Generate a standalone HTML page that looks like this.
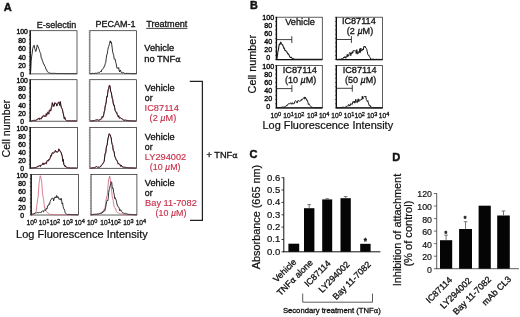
<!DOCTYPE html>
<html><head><meta charset="utf-8"><title>Figure</title>
<style>
html,body{margin:0;padding:0;background:#fff;}
svg{display:block;filter:blur(0.25px);}
svg text{font-family:"Liberation Sans", Arial, Helvetica, sans-serif;stroke-width:0.3px;paint-order:stroke fill;}
</style></head>
<body>
<svg width="520" height="317" viewBox="0 0 520 317">
<rect x="0" y="0" width="520" height="317" fill="#fff"/>
<g fill="#111"><g stroke="#111">
<text x="3.7" y="10.6" font-size="11.8" textLength="8.0" lengthAdjust="spacingAndGlyphs" style="stroke-width:0.45px" font-weight="bold">A</text>
<text x="36.8" y="27.5" font-size="9.0" textLength="39.4" lengthAdjust="spacingAndGlyphs">E-selectin</text>
<text x="95.5" y="27.2" font-size="9.0" textLength="40.0" lengthAdjust="spacingAndGlyphs">PECAM-1</text>
<text x="146.2" y="27.2" font-size="9.0" textLength="41.2" lengthAdjust="spacingAndGlyphs">Treatment</text>
<line x1="146.2" y1="28.4" x2="187.4" y2="28.4" stroke="#111" stroke-width="0.8"/>
<rect x="30.30" y="30.70" width="46.70" height="43.20" fill="none" stroke="#2a2a2a" stroke-width="0.75"/>
<rect x="89.90" y="30.70" width="46.70" height="43.20" fill="none" stroke="#2a2a2a" stroke-width="0.75"/>
<line x1="30.2" y1="30.4" x2="30.2" y2="74.2" stroke="#111" stroke-width="1.4"/>
<line x1="28.9" y1="30.7" x2="30.2" y2="30.7" stroke="#111" stroke-width="0.5"/>
<line x1="28.9" y1="35.02" x2="30.2" y2="35.02" stroke="#111" stroke-width="0.5"/>
<line x1="28.9" y1="39.34" x2="30.2" y2="39.34" stroke="#111" stroke-width="0.5"/>
<line x1="28.9" y1="43.66" x2="30.2" y2="43.66" stroke="#111" stroke-width="0.5"/>
<line x1="28.9" y1="47.98" x2="30.2" y2="47.98" stroke="#111" stroke-width="0.5"/>
<line x1="28.9" y1="52.3" x2="30.2" y2="52.3" stroke="#111" stroke-width="0.5"/>
<line x1="28.9" y1="56.62" x2="30.2" y2="56.62" stroke="#111" stroke-width="0.5"/>
<line x1="28.9" y1="60.94" x2="30.2" y2="60.94" stroke="#111" stroke-width="0.5"/>
<line x1="28.9" y1="65.26" x2="30.2" y2="65.26" stroke="#111" stroke-width="0.5"/>
<line x1="28.9" y1="69.58" x2="30.2" y2="69.58" stroke="#111" stroke-width="0.5"/>
<line x1="28.9" y1="73.9" x2="30.2" y2="73.9" stroke="#111" stroke-width="0.5"/>
<text x="22.1" y="33.9" font-size="6.8" text-anchor="middle" style="stroke-width:0.4px">100</text>
<text x="22.1" y="42.5" font-size="6.8" text-anchor="middle" style="stroke-width:0.4px">80</text>
<text x="22.1" y="51.0" font-size="6.8" text-anchor="middle" style="stroke-width:0.4px">60</text>
<text x="22.1" y="59.6" font-size="6.8" text-anchor="middle" style="stroke-width:0.4px">40</text>
<text x="22.1" y="68.1" font-size="6.8" text-anchor="middle" style="stroke-width:0.4px">20</text>
<text x="22.1" y="76.7" font-size="6.8" text-anchor="middle" style="stroke-width:0.4px">0</text>
<line x1="88.7" y1="30.7" x2="89.9" y2="30.7" stroke="#444" stroke-width="0.45"/>
<line x1="88.7" y1="32.43" x2="89.9" y2="32.43" stroke="#444" stroke-width="0.45"/>
<line x1="88.7" y1="34.16" x2="89.9" y2="34.16" stroke="#444" stroke-width="0.45"/>
<line x1="88.7" y1="35.88" x2="89.9" y2="35.88" stroke="#444" stroke-width="0.45"/>
<line x1="88.7" y1="37.61" x2="89.9" y2="37.61" stroke="#444" stroke-width="0.45"/>
<line x1="88.7" y1="39.34" x2="89.9" y2="39.34" stroke="#444" stroke-width="0.45"/>
<line x1="88.7" y1="41.07" x2="89.9" y2="41.07" stroke="#444" stroke-width="0.45"/>
<line x1="88.7" y1="42.8" x2="89.9" y2="42.8" stroke="#444" stroke-width="0.45"/>
<line x1="88.7" y1="44.52" x2="89.9" y2="44.52" stroke="#444" stroke-width="0.45"/>
<line x1="88.7" y1="46.25" x2="89.9" y2="46.25" stroke="#444" stroke-width="0.45"/>
<line x1="88.7" y1="47.98" x2="89.9" y2="47.98" stroke="#444" stroke-width="0.45"/>
<line x1="88.7" y1="49.71" x2="89.9" y2="49.71" stroke="#444" stroke-width="0.45"/>
<line x1="88.7" y1="51.44" x2="89.9" y2="51.44" stroke="#444" stroke-width="0.45"/>
<line x1="88.7" y1="53.16" x2="89.9" y2="53.16" stroke="#444" stroke-width="0.45"/>
<line x1="88.7" y1="54.89" x2="89.9" y2="54.89" stroke="#444" stroke-width="0.45"/>
<line x1="88.7" y1="56.62" x2="89.9" y2="56.62" stroke="#444" stroke-width="0.45"/>
<line x1="88.7" y1="58.35" x2="89.9" y2="58.35" stroke="#444" stroke-width="0.45"/>
<line x1="88.7" y1="60.08" x2="89.9" y2="60.08" stroke="#444" stroke-width="0.45"/>
<line x1="88.7" y1="61.8" x2="89.9" y2="61.8" stroke="#444" stroke-width="0.45"/>
<line x1="88.7" y1="63.53" x2="89.9" y2="63.53" stroke="#444" stroke-width="0.45"/>
<line x1="88.7" y1="65.26" x2="89.9" y2="65.26" stroke="#444" stroke-width="0.45"/>
<line x1="88.7" y1="66.99" x2="89.9" y2="66.99" stroke="#444" stroke-width="0.45"/>
<line x1="88.7" y1="68.72" x2="89.9" y2="68.72" stroke="#444" stroke-width="0.45"/>
<line x1="88.7" y1="70.44" x2="89.9" y2="70.44" stroke="#444" stroke-width="0.45"/>
<line x1="88.7" y1="72.17" x2="89.9" y2="72.17" stroke="#444" stroke-width="0.45"/>
<line x1="88.7" y1="73.9" x2="89.9" y2="73.9" stroke="#444" stroke-width="0.45"/>
<rect x="30.30" y="79.70" width="46.70" height="41.50" fill="none" stroke="#2a2a2a" stroke-width="0.75"/>
<rect x="89.90" y="79.70" width="46.70" height="41.50" fill="none" stroke="#2a2a2a" stroke-width="0.75"/>
<line x1="30.2" y1="79.4" x2="30.2" y2="121.5" stroke="#111" stroke-width="1.4"/>
<line x1="28.9" y1="79.7" x2="30.2" y2="79.7" stroke="#111" stroke-width="0.5"/>
<line x1="28.9" y1="83.85" x2="30.2" y2="83.85" stroke="#111" stroke-width="0.5"/>
<line x1="28.9" y1="88.0" x2="30.2" y2="88.0" stroke="#111" stroke-width="0.5"/>
<line x1="28.9" y1="92.15" x2="30.2" y2="92.15" stroke="#111" stroke-width="0.5"/>
<line x1="28.9" y1="96.3" x2="30.2" y2="96.3" stroke="#111" stroke-width="0.5"/>
<line x1="28.9" y1="100.45" x2="30.2" y2="100.45" stroke="#111" stroke-width="0.5"/>
<line x1="28.9" y1="104.6" x2="30.2" y2="104.6" stroke="#111" stroke-width="0.5"/>
<line x1="28.9" y1="108.75" x2="30.2" y2="108.75" stroke="#111" stroke-width="0.5"/>
<line x1="28.9" y1="112.9" x2="30.2" y2="112.9" stroke="#111" stroke-width="0.5"/>
<line x1="28.9" y1="117.05" x2="30.2" y2="117.05" stroke="#111" stroke-width="0.5"/>
<line x1="28.9" y1="121.2" x2="30.2" y2="121.2" stroke="#111" stroke-width="0.5"/>
<text x="22.1" y="82.9" font-size="6.8" text-anchor="middle" style="stroke-width:0.4px">100</text>
<text x="22.1" y="91.1" font-size="6.8" text-anchor="middle" style="stroke-width:0.4px">80</text>
<text x="22.1" y="99.3" font-size="6.8" text-anchor="middle" style="stroke-width:0.4px">60</text>
<text x="22.1" y="107.6" font-size="6.8" text-anchor="middle" style="stroke-width:0.4px">40</text>
<text x="22.1" y="115.8" font-size="6.8" text-anchor="middle" style="stroke-width:0.4px">20</text>
<text x="22.1" y="124.0" font-size="6.8" text-anchor="middle" style="stroke-width:0.4px">0</text>
<line x1="88.7" y1="79.7" x2="89.9" y2="79.7" stroke="#444" stroke-width="0.45"/>
<line x1="88.7" y1="81.36" x2="89.9" y2="81.36" stroke="#444" stroke-width="0.45"/>
<line x1="88.7" y1="83.02" x2="89.9" y2="83.02" stroke="#444" stroke-width="0.45"/>
<line x1="88.7" y1="84.68" x2="89.9" y2="84.68" stroke="#444" stroke-width="0.45"/>
<line x1="88.7" y1="86.34" x2="89.9" y2="86.34" stroke="#444" stroke-width="0.45"/>
<line x1="88.7" y1="88.0" x2="89.9" y2="88.0" stroke="#444" stroke-width="0.45"/>
<line x1="88.7" y1="89.66" x2="89.9" y2="89.66" stroke="#444" stroke-width="0.45"/>
<line x1="88.7" y1="91.32" x2="89.9" y2="91.32" stroke="#444" stroke-width="0.45"/>
<line x1="88.7" y1="92.98" x2="89.9" y2="92.98" stroke="#444" stroke-width="0.45"/>
<line x1="88.7" y1="94.64" x2="89.9" y2="94.64" stroke="#444" stroke-width="0.45"/>
<line x1="88.7" y1="96.3" x2="89.9" y2="96.3" stroke="#444" stroke-width="0.45"/>
<line x1="88.7" y1="97.96" x2="89.9" y2="97.96" stroke="#444" stroke-width="0.45"/>
<line x1="88.7" y1="99.62" x2="89.9" y2="99.62" stroke="#444" stroke-width="0.45"/>
<line x1="88.7" y1="101.28" x2="89.9" y2="101.28" stroke="#444" stroke-width="0.45"/>
<line x1="88.7" y1="102.94" x2="89.9" y2="102.94" stroke="#444" stroke-width="0.45"/>
<line x1="88.7" y1="104.6" x2="89.9" y2="104.6" stroke="#444" stroke-width="0.45"/>
<line x1="88.7" y1="106.26" x2="89.9" y2="106.26" stroke="#444" stroke-width="0.45"/>
<line x1="88.7" y1="107.92" x2="89.9" y2="107.92" stroke="#444" stroke-width="0.45"/>
<line x1="88.7" y1="109.58" x2="89.9" y2="109.58" stroke="#444" stroke-width="0.45"/>
<line x1="88.7" y1="111.24" x2="89.9" y2="111.24" stroke="#444" stroke-width="0.45"/>
<line x1="88.7" y1="112.9" x2="89.9" y2="112.9" stroke="#444" stroke-width="0.45"/>
<line x1="88.7" y1="114.56" x2="89.9" y2="114.56" stroke="#444" stroke-width="0.45"/>
<line x1="88.7" y1="116.22" x2="89.9" y2="116.22" stroke="#444" stroke-width="0.45"/>
<line x1="88.7" y1="117.88" x2="89.9" y2="117.88" stroke="#444" stroke-width="0.45"/>
<line x1="88.7" y1="119.54" x2="89.9" y2="119.54" stroke="#444" stroke-width="0.45"/>
<line x1="88.7" y1="121.2" x2="89.9" y2="121.2" stroke="#444" stroke-width="0.45"/>
<rect x="30.30" y="127.40" width="47.10" height="40.90" fill="none" stroke="#2a2a2a" stroke-width="0.75"/>
<rect x="90.00" y="127.40" width="46.60" height="40.90" fill="none" stroke="#2a2a2a" stroke-width="0.75"/>
<line x1="30.2" y1="127.10000000000001" x2="30.2" y2="168.60000000000002" stroke="#111" stroke-width="1.4"/>
<line x1="28.9" y1="127.4" x2="30.2" y2="127.4" stroke="#111" stroke-width="0.5"/>
<line x1="28.9" y1="131.49" x2="30.2" y2="131.49" stroke="#111" stroke-width="0.5"/>
<line x1="28.9" y1="135.58" x2="30.2" y2="135.58" stroke="#111" stroke-width="0.5"/>
<line x1="28.9" y1="139.67" x2="30.2" y2="139.67" stroke="#111" stroke-width="0.5"/>
<line x1="28.9" y1="143.76" x2="30.2" y2="143.76" stroke="#111" stroke-width="0.5"/>
<line x1="28.9" y1="147.85" x2="30.2" y2="147.85" stroke="#111" stroke-width="0.5"/>
<line x1="28.9" y1="151.94" x2="30.2" y2="151.94" stroke="#111" stroke-width="0.5"/>
<line x1="28.9" y1="156.03" x2="30.2" y2="156.03" stroke="#111" stroke-width="0.5"/>
<line x1="28.9" y1="160.12" x2="30.2" y2="160.12" stroke="#111" stroke-width="0.5"/>
<line x1="28.9" y1="164.21" x2="30.2" y2="164.21" stroke="#111" stroke-width="0.5"/>
<line x1="28.9" y1="168.3" x2="30.2" y2="168.3" stroke="#111" stroke-width="0.5"/>
<text x="22.1" y="130.6" font-size="6.8" text-anchor="middle" style="stroke-width:0.4px">100</text>
<text x="22.1" y="138.7" font-size="6.8" text-anchor="middle" style="stroke-width:0.4px">80</text>
<text x="22.1" y="146.8" font-size="6.8" text-anchor="middle" style="stroke-width:0.4px">60</text>
<text x="22.1" y="154.9" font-size="6.8" text-anchor="middle" style="stroke-width:0.4px">40</text>
<text x="22.1" y="163.0" font-size="6.8" text-anchor="middle" style="stroke-width:0.4px">20</text>
<text x="22.1" y="171.1" font-size="6.8" text-anchor="middle" style="stroke-width:0.4px">0</text>
<line x1="88.8" y1="127.4" x2="90.0" y2="127.4" stroke="#444" stroke-width="0.45"/>
<line x1="88.8" y1="129.04" x2="90.0" y2="129.04" stroke="#444" stroke-width="0.45"/>
<line x1="88.8" y1="130.67" x2="90.0" y2="130.67" stroke="#444" stroke-width="0.45"/>
<line x1="88.8" y1="132.31" x2="90.0" y2="132.31" stroke="#444" stroke-width="0.45"/>
<line x1="88.8" y1="133.94" x2="90.0" y2="133.94" stroke="#444" stroke-width="0.45"/>
<line x1="88.8" y1="135.58" x2="90.0" y2="135.58" stroke="#444" stroke-width="0.45"/>
<line x1="88.8" y1="137.22" x2="90.0" y2="137.22" stroke="#444" stroke-width="0.45"/>
<line x1="88.8" y1="138.85" x2="90.0" y2="138.85" stroke="#444" stroke-width="0.45"/>
<line x1="88.8" y1="140.49" x2="90.0" y2="140.49" stroke="#444" stroke-width="0.45"/>
<line x1="88.8" y1="142.12" x2="90.0" y2="142.12" stroke="#444" stroke-width="0.45"/>
<line x1="88.8" y1="143.76" x2="90.0" y2="143.76" stroke="#444" stroke-width="0.45"/>
<line x1="88.8" y1="145.4" x2="90.0" y2="145.4" stroke="#444" stroke-width="0.45"/>
<line x1="88.8" y1="147.03" x2="90.0" y2="147.03" stroke="#444" stroke-width="0.45"/>
<line x1="88.8" y1="148.67" x2="90.0" y2="148.67" stroke="#444" stroke-width="0.45"/>
<line x1="88.8" y1="150.3" x2="90.0" y2="150.3" stroke="#444" stroke-width="0.45"/>
<line x1="88.8" y1="151.94" x2="90.0" y2="151.94" stroke="#444" stroke-width="0.45"/>
<line x1="88.8" y1="153.58" x2="90.0" y2="153.58" stroke="#444" stroke-width="0.45"/>
<line x1="88.8" y1="155.21" x2="90.0" y2="155.21" stroke="#444" stroke-width="0.45"/>
<line x1="88.8" y1="156.85" x2="90.0" y2="156.85" stroke="#444" stroke-width="0.45"/>
<line x1="88.8" y1="158.48" x2="90.0" y2="158.48" stroke="#444" stroke-width="0.45"/>
<line x1="88.8" y1="160.12" x2="90.0" y2="160.12" stroke="#444" stroke-width="0.45"/>
<line x1="88.8" y1="161.76" x2="90.0" y2="161.76" stroke="#444" stroke-width="0.45"/>
<line x1="88.8" y1="163.39" x2="90.0" y2="163.39" stroke="#444" stroke-width="0.45"/>
<line x1="88.8" y1="165.03" x2="90.0" y2="165.03" stroke="#444" stroke-width="0.45"/>
<line x1="88.8" y1="166.66" x2="90.0" y2="166.66" stroke="#444" stroke-width="0.45"/>
<line x1="88.8" y1="168.3" x2="90.0" y2="168.3" stroke="#444" stroke-width="0.45"/>
<rect x="31.20" y="174.50" width="47.20" height="40.50" fill="none" stroke="#2a2a2a" stroke-width="0.75"/>
<rect x="91.10" y="174.50" width="45.80" height="40.50" fill="none" stroke="#2a2a2a" stroke-width="0.75"/>
<line x1="31.099999999999998" y1="174.2" x2="31.099999999999998" y2="215.3" stroke="#111" stroke-width="1.4"/>
<line x1="29.799999999999997" y1="174.5" x2="31.099999999999998" y2="174.5" stroke="#111" stroke-width="0.5"/>
<line x1="29.799999999999997" y1="178.55" x2="31.099999999999998" y2="178.55" stroke="#111" stroke-width="0.5"/>
<line x1="29.799999999999997" y1="182.6" x2="31.099999999999998" y2="182.6" stroke="#111" stroke-width="0.5"/>
<line x1="29.799999999999997" y1="186.65" x2="31.099999999999998" y2="186.65" stroke="#111" stroke-width="0.5"/>
<line x1="29.799999999999997" y1="190.7" x2="31.099999999999998" y2="190.7" stroke="#111" stroke-width="0.5"/>
<line x1="29.799999999999997" y1="194.75" x2="31.099999999999998" y2="194.75" stroke="#111" stroke-width="0.5"/>
<line x1="29.799999999999997" y1="198.8" x2="31.099999999999998" y2="198.8" stroke="#111" stroke-width="0.5"/>
<line x1="29.799999999999997" y1="202.85" x2="31.099999999999998" y2="202.85" stroke="#111" stroke-width="0.5"/>
<line x1="29.799999999999997" y1="206.9" x2="31.099999999999998" y2="206.9" stroke="#111" stroke-width="0.5"/>
<line x1="29.799999999999997" y1="210.95" x2="31.099999999999998" y2="210.95" stroke="#111" stroke-width="0.5"/>
<line x1="29.799999999999997" y1="215.0" x2="31.099999999999998" y2="215.0" stroke="#111" stroke-width="0.5"/>
<text x="22.1" y="177.7" font-size="6.8" text-anchor="middle" style="stroke-width:0.4px">100</text>
<text x="22.1" y="185.7" font-size="6.8" text-anchor="middle" style="stroke-width:0.4px">80</text>
<text x="22.1" y="193.7" font-size="6.8" text-anchor="middle" style="stroke-width:0.4px">60</text>
<text x="22.1" y="201.8" font-size="6.8" text-anchor="middle" style="stroke-width:0.4px">40</text>
<text x="22.1" y="209.8" font-size="6.8" text-anchor="middle" style="stroke-width:0.4px">20</text>
<text x="22.1" y="217.8" font-size="6.8" text-anchor="middle" style="stroke-width:0.4px">0</text>
<line x1="89.89999999999999" y1="174.5" x2="91.1" y2="174.5" stroke="#444" stroke-width="0.45"/>
<line x1="89.89999999999999" y1="176.12" x2="91.1" y2="176.12" stroke="#444" stroke-width="0.45"/>
<line x1="89.89999999999999" y1="177.74" x2="91.1" y2="177.74" stroke="#444" stroke-width="0.45"/>
<line x1="89.89999999999999" y1="179.36" x2="91.1" y2="179.36" stroke="#444" stroke-width="0.45"/>
<line x1="89.89999999999999" y1="180.98" x2="91.1" y2="180.98" stroke="#444" stroke-width="0.45"/>
<line x1="89.89999999999999" y1="182.6" x2="91.1" y2="182.6" stroke="#444" stroke-width="0.45"/>
<line x1="89.89999999999999" y1="184.22" x2="91.1" y2="184.22" stroke="#444" stroke-width="0.45"/>
<line x1="89.89999999999999" y1="185.84" x2="91.1" y2="185.84" stroke="#444" stroke-width="0.45"/>
<line x1="89.89999999999999" y1="187.46" x2="91.1" y2="187.46" stroke="#444" stroke-width="0.45"/>
<line x1="89.89999999999999" y1="189.08" x2="91.1" y2="189.08" stroke="#444" stroke-width="0.45"/>
<line x1="89.89999999999999" y1="190.7" x2="91.1" y2="190.7" stroke="#444" stroke-width="0.45"/>
<line x1="89.89999999999999" y1="192.32" x2="91.1" y2="192.32" stroke="#444" stroke-width="0.45"/>
<line x1="89.89999999999999" y1="193.94" x2="91.1" y2="193.94" stroke="#444" stroke-width="0.45"/>
<line x1="89.89999999999999" y1="195.56" x2="91.1" y2="195.56" stroke="#444" stroke-width="0.45"/>
<line x1="89.89999999999999" y1="197.18" x2="91.1" y2="197.18" stroke="#444" stroke-width="0.45"/>
<line x1="89.89999999999999" y1="198.8" x2="91.1" y2="198.8" stroke="#444" stroke-width="0.45"/>
<line x1="89.89999999999999" y1="200.42" x2="91.1" y2="200.42" stroke="#444" stroke-width="0.45"/>
<line x1="89.89999999999999" y1="202.04" x2="91.1" y2="202.04" stroke="#444" stroke-width="0.45"/>
<line x1="89.89999999999999" y1="203.66" x2="91.1" y2="203.66" stroke="#444" stroke-width="0.45"/>
<line x1="89.89999999999999" y1="205.28" x2="91.1" y2="205.28" stroke="#444" stroke-width="0.45"/>
<line x1="89.89999999999999" y1="206.9" x2="91.1" y2="206.9" stroke="#444" stroke-width="0.45"/>
<line x1="89.89999999999999" y1="208.52" x2="91.1" y2="208.52" stroke="#444" stroke-width="0.45"/>
<line x1="89.89999999999999" y1="210.14" x2="91.1" y2="210.14" stroke="#444" stroke-width="0.45"/>
<line x1="89.89999999999999" y1="211.76" x2="91.1" y2="211.76" stroke="#444" stroke-width="0.45"/>
<line x1="89.89999999999999" y1="213.38" x2="91.1" y2="213.38" stroke="#444" stroke-width="0.45"/>
<line x1="89.89999999999999" y1="215.0" x2="91.1" y2="215.0" stroke="#444" stroke-width="0.45"/>
<text x="10.1" y="157.6" font-size="10.9" textLength="57.8" lengthAdjust="spacingAndGlyphs" style="stroke-width:0.22px" transform="rotate(-90 10.1 157.6)">Cell number</text>
<text x="16.0" y="237.8" font-size="10.9" textLength="131.7" lengthAdjust="spacingAndGlyphs" style="stroke-width:0.22px">Log Fluorescence Intensity</text>
<text x="26.5" y="224.7" font-size="6.6">10<tspan dy="-2.1" font-size="5.6">0</tspan></text>
<text x="38.8" y="224.7" font-size="6.6">10<tspan dy="-2.1" font-size="5.6">1</tspan></text>
<text x="49.7" y="224.7" font-size="6.6">10<tspan dy="-2.1" font-size="5.6">2</tspan></text>
<text x="62.5" y="224.7" font-size="6.6">10<tspan dy="-2.1" font-size="5.6">3</tspan></text>
<text x="74.4" y="224.7" font-size="6.6">10<tspan dy="-2.1" font-size="5.6">4</tspan></text>
<text x="86.9" y="224.7" font-size="6.6">10<tspan dy="-2.1" font-size="5.6">0</tspan></text>
<text x="100.3" y="224.7" font-size="6.6">10<tspan dy="-2.1" font-size="5.6">1</tspan></text>
<text x="110.5" y="224.7" font-size="6.6">10<tspan dy="-2.1" font-size="5.6">2</tspan></text>
<text x="123.2" y="224.7" font-size="6.6">10<tspan dy="-2.1" font-size="5.6">3</tspan></text>
<text x="135.7" y="224.7" font-size="6.6">10<tspan dy="-2.1" font-size="5.6">4</tspan></text>
<polyline points="30.7,71.5 31.2,61.2 31.7,56.1 32.2,53.2 32.7,48.7 33.2,47.0 33.7,45.6 34.2,45.2 34.7,48.3 35.2,49.7 35.7,51.5 36.2,50.5 36.7,47.7 37.2,44.9 37.7,45.8 38.2,47.0 38.7,48.4 39.2,49.8 39.7,51.3 40.2,52.8 40.7,53.6 41.2,57.9 41.7,58.1 42.2,60.1 42.7,61.2 43.2,62.9 43.7,64.3 44.2,64.4 44.7,66.2 45.2,66.6 45.7,68.1 46.2,69.7 46.7,69.7 47.2,71.3 47.7,72.1 48.2,72.4 48.7,72.3 49.2,72.9 49.7,73.3 50.2,73.3 50.7,73.3 51.2,73.4 51.7,73.2 52.2,73.3 52.7,73.4 53.2,73.3 53.7,73.4 54.2,73.3 54.7,73.4 55.2,73.5 55.7,73.4 56.2,73.5 56.7,73.5 57.2,73.5 57.7,73.6 58.2,73.5 58.7,73.6 59.2,73.5 59.7,73.5 60.2,73.5 60.7,73.5 61.2,73.6 61.7,73.5 62.2,73.5 62.7,73.5 63.2,73.6 63.7,73.5 64.2,73.5 64.7,73.6 65.2,73.6 65.7,73.6 66.2,73.6 66.7,73.6 67.2,73.5 67.7,73.6 68.2,73.6 68.7,73.6 69.2,73.6 69.7,73.6 70.2,73.6 70.7,73.6 71.2,73.6 71.7,73.6 72.2,73.6 72.7,73.6 73.2,73.6 73.7,73.6 74.2,73.6 74.7,73.6 75.2,73.6 75.7,73.6 76.2,73.6 76.7,73.6" fill="none" stroke="#1c1c1c" stroke-width="0.9" stroke-linejoin="round"/>
<polyline points="90.2,73.6 90.7,73.6 91.2,73.6 91.7,73.6 92.2,73.4 92.7,73.3 93.2,73.5 93.7,73.5 94.2,73.4 94.7,73.4 95.2,73.3 95.7,73.2 96.2,73.3 96.7,73.3 97.2,72.9 97.7,72.9 98.2,72.6 98.7,72.2 99.2,72.4 99.7,72.4 100.2,71.9 100.7,71.3 101.2,72.0 101.7,69.8 102.2,69.8 102.7,69.3 103.2,68.3 103.7,68.0 104.2,66.3 104.7,66.2 105.2,63.6 105.7,62.9 106.2,58.8 106.7,55.0 107.2,54.1 107.7,50.6 108.2,48.1 108.7,46.5 109.2,44.9 109.7,43.1 110.2,40.8 110.7,42.9 111.2,41.8 111.7,44.1 112.2,48.1 112.7,51.9 113.2,53.8 113.7,55.2 114.2,59.2 114.7,59.0 115.2,59.1 115.7,62.2 116.2,63.8 116.7,67.1 117.2,68.3 117.7,67.7 118.2,68.6 118.7,67.6 119.2,70.9 119.7,71.9 120.2,69.9 120.7,71.2 121.2,72.3 121.7,72.2 122.2,73.1 122.7,72.7 123.2,72.4 123.7,72.7 124.2,73.1 124.7,73.4 125.2,73.4 125.7,73.5 126.2,73.3 126.7,73.4 127.2,73.3 127.7,73.5 128.2,73.6 128.7,73.4 129.2,73.4 129.7,73.5 130.2,73.5 130.7,73.5 131.2,73.5 131.7,73.6 132.2,73.6 132.7,73.6 133.2,73.6 133.7,73.6 134.2,73.6 134.7,73.6 135.2,73.6 135.7,73.5 136.2,73.6" fill="none" stroke="#1c1c1c" stroke-width="0.9" stroke-linejoin="round"/>
<polyline points="30.8,120.8 31.3,121.0 31.8,121.0 32.3,120.6 32.8,120.8 33.3,120.8 33.8,120.4 34.3,120.5 34.8,120.1 35.3,120.6 35.8,119.9 36.3,120.3 36.8,119.8 37.3,119.0 37.8,119.1 38.3,118.4 38.8,118.5 39.3,119.8 39.8,117.8 40.3,118.5 40.8,119.0 41.3,119.1 41.8,116.9 42.3,117.4 42.8,115.7 43.3,115.9 43.8,114.9 44.3,116.4 44.8,115.7 45.3,115.7 45.8,116.8 46.3,113.0 46.8,115.4 47.3,112.7 47.8,111.7 48.3,112.9 48.8,114.4 49.3,110.0 49.8,109.6 50.3,111.1 50.8,111.3 51.3,107.5 51.8,107.8 52.3,102.2 52.8,103.9 53.3,104.9 53.8,106.5 54.3,105.1 54.8,102.3 55.3,103.6 55.8,103.4 56.3,103.7 56.8,106.2 57.3,104.6 57.8,103.4 58.3,102.6 58.8,101.7 59.3,103.7 59.8,105.9 60.3,101.1 60.8,105.3 61.3,107.5 61.8,108.6 62.3,108.7 62.8,111.0 63.3,113.7 63.8,116.3 64.3,119.0 64.8,117.0 65.3,119.8 65.8,120.0 66.3,120.4 66.8,120.6 67.3,120.8 67.8,120.9 68.3,121.0 68.8,120.8 69.3,120.7 69.8,120.8 70.3,120.9 70.8,120.8 71.3,121.0 71.8,120.9 72.3,120.8 72.8,120.8 73.3,120.9 73.8,120.8 74.3,120.9 74.8,120.9 75.3,120.9 75.8,120.8 76.3,120.9 76.8,121.0" fill="none" stroke="#cf6078" stroke-width="1.0" stroke-linejoin="round"/>
<polyline points="30.8,120.9 31.3,121.0 31.8,121.0 32.3,120.7 32.8,120.8 33.3,120.7 33.8,120.4 34.3,120.5 34.8,120.2 35.3,120.5 35.8,120.0 36.3,120.2 36.8,119.8 37.3,119.2 37.8,119.2 38.3,118.6 38.8,118.7 39.3,119.4 39.8,118.2 40.3,118.6 40.8,118.8 41.3,118.8 41.8,117.3 42.3,117.5 42.8,116.3 43.3,116.3 43.8,115.6 44.3,116.5 44.8,116.0 45.3,115.9 45.8,116.4 46.3,113.8 46.8,115.1 47.3,113.2 47.8,112.4 48.3,113.1 48.8,113.8 49.3,110.6 49.8,109.9 50.3,110.6 50.8,110.6 51.3,107.6 51.8,107.0 52.3,102.9 52.8,103.9 53.3,105.0 53.8,106.4 54.3,105.4 54.8,103.0 55.3,103.3 55.8,103.2 56.3,103.9 56.8,105.9 57.3,104.8 57.8,103.5 58.3,102.5 58.8,102.0 59.3,103.7 59.8,105.3 60.3,101.9 60.8,105.0 61.3,107.3 61.8,108.4 62.3,109.5 62.8,111.7 63.3,113.8 63.8,116.1 64.3,118.5 64.8,117.4 65.3,119.5 65.8,120.0 66.3,120.3 66.8,120.5 67.3,120.8 67.8,120.9 68.3,120.9 68.8,120.8 69.3,120.7 69.8,120.8 70.3,120.9 70.8,120.8 71.3,120.9 71.8,120.9 72.3,120.8 72.8,120.8 73.3,120.9 73.8,120.9 74.3,120.9 74.8,120.9 75.3,120.9 75.8,120.9 76.3,120.9 76.8,121.0" fill="none" stroke="#1c1c1c" stroke-width="1.0" stroke-linejoin="round"/>
<polyline points="90.2,120.9 90.7,121.0 91.2,121.0 91.7,120.9 92.2,120.7 92.7,120.7 93.2,120.5 93.7,120.8 94.2,120.6 94.7,120.8 95.2,120.5 95.7,119.9 96.2,120.2 96.7,119.9 97.2,119.6 97.7,120.0 98.2,120.4 98.7,120.2 99.2,119.8 99.7,120.3 100.2,119.2 100.7,119.2 101.2,119.1 101.7,118.8 102.2,116.2 102.7,117.5 103.2,116.9 103.7,115.2 104.2,111.6 104.7,110.3 105.2,105.8 105.7,104.5 106.2,102.0 106.7,96.3 107.2,97.2 107.7,93.2 108.2,89.4 108.7,88.9 109.2,85.3 109.7,85.3 110.2,86.9 110.7,91.9 111.2,92.3 111.7,95.3 112.2,98.6 112.7,99.4 113.2,103.5 113.7,105.3 114.2,104.9 114.7,108.2 115.2,110.5 115.7,111.9 116.2,112.7 116.7,111.8 117.2,114.4 117.7,115.0 118.2,117.0 118.7,115.6 119.2,118.2 119.7,118.2 120.2,117.4 120.7,118.2 121.2,118.5 121.7,118.5 122.2,118.6 122.7,119.1 123.2,120.0 123.7,120.4 124.2,120.3 124.7,120.3 125.2,120.4 125.7,119.9 126.2,120.1 126.7,120.5 127.2,120.4 127.7,120.6 128.2,120.5 128.7,120.7 129.2,120.8 129.7,120.9 130.2,120.8 130.7,120.9 131.2,120.8 131.7,120.7 132.2,120.9 132.7,120.9 133.2,120.7 133.7,120.9 134.2,121.0 134.7,121.0 135.2,121.0 135.7,120.9 136.2,120.9" fill="none" stroke="#cf6078" stroke-width="1.0" stroke-linejoin="round"/>
<polyline points="90.2,120.9 90.7,121.0 91.2,120.9 91.7,120.9 92.2,120.7 92.7,120.7 93.2,120.6 93.7,120.7 94.2,120.6 94.7,120.7 95.2,120.4 95.7,119.9 96.2,120.0 96.7,119.8 97.2,119.6 97.7,120.0 98.2,120.4 98.7,120.2 99.2,119.9 99.7,120.1 100.2,119.3 100.7,119.3 101.2,119.0 101.7,118.6 102.2,116.6 102.7,117.3 103.2,116.4 103.7,114.7 104.2,112.0 104.7,110.5 105.2,106.1 105.7,104.7 106.2,102.1 106.7,96.9 107.2,97.0 107.7,93.3 108.2,89.8 108.7,89.1 109.2,85.7 109.7,85.4 110.2,87.2 110.7,91.3 111.2,92.0 111.7,95.0 112.2,98.1 112.7,99.1 113.2,103.0 113.7,105.1 114.2,105.0 114.7,108.0 115.2,110.4 115.7,111.6 116.2,112.4 116.7,112.4 117.2,114.5 117.7,115.1 118.2,116.6 118.7,115.8 119.2,117.9 119.7,118.1 120.2,117.7 120.7,118.3 121.2,118.6 121.7,118.6 122.2,118.8 122.7,119.2 123.2,119.9 123.7,120.3 124.2,120.2 124.7,120.3 125.2,120.3 125.7,120.0 126.2,120.1 126.7,120.5 127.2,120.4 127.7,120.6 128.2,120.5 128.7,120.7 129.2,120.8 129.7,120.8 130.2,120.8 130.7,120.8 131.2,120.8 131.7,120.7 132.2,120.8 132.7,120.9 133.2,120.8 133.7,120.9 134.2,121.0 134.7,121.0 135.2,121.0 135.7,120.9 136.2,120.9" fill="none" stroke="#1c1c1c" stroke-width="1.0" stroke-linejoin="round"/>
<polyline points="30.8,168.0 31.3,167.9 31.8,167.9 32.3,168.0 32.8,167.7 33.3,167.7 33.8,167.6 34.3,167.8 34.8,167.7 35.3,167.5 35.8,167.6 36.3,167.3 36.8,167.6 37.3,167.3 37.8,166.2 38.3,166.4 38.8,166.1 39.3,165.4 39.8,166.2 40.3,166.8 40.8,165.0 41.3,165.2 41.8,164.7 42.3,164.4 42.8,162.8 43.3,164.7 43.8,162.9 44.3,164.4 44.8,163.4 45.3,162.7 45.8,163.7 46.3,164.2 46.8,161.8 47.3,160.3 47.8,160.6 48.3,161.0 48.8,159.3 49.3,160.2 49.8,159.1 50.3,157.7 50.8,155.1 51.3,156.4 51.8,154.7 52.3,153.2 52.8,153.3 53.3,153.4 53.8,153.1 54.3,151.8 54.8,152.3 55.3,150.7 55.8,151.1 56.3,152.3 56.8,151.4 57.3,152.2 57.8,152.0 58.3,151.4 58.8,148.6 59.3,150.2 59.8,149.9 60.3,151.9 60.8,151.7 61.3,152.6 61.8,155.0 62.3,155.9 62.8,161.7 63.3,158.9 63.8,165.0 64.3,165.1 64.8,166.6 65.3,165.7 65.8,167.0 66.3,166.9 66.8,167.4 67.3,167.6 67.8,167.9 68.3,167.7 68.8,167.8 69.3,168.0 69.8,167.7 70.3,168.0 70.8,168.0 71.3,168.1 71.8,168.0 72.3,168.1 72.8,167.9 73.3,167.9 73.8,168.1 74.3,168.1 74.8,168.0 75.3,168.1 75.8,168.0 76.3,168.0 76.8,168.1" fill="none" stroke="#cf6078" stroke-width="1.0" stroke-linejoin="round"/>
<polyline points="30.8,168.0 31.3,168.0 31.8,167.9 32.3,168.0 32.8,167.8 33.3,167.7 33.8,167.6 34.3,167.7 34.8,167.6 35.3,167.5 35.8,167.5 36.3,167.2 36.8,167.4 37.3,167.1 37.8,166.3 38.3,166.4 38.8,166.1 39.3,165.6 39.8,166.1 40.3,166.5 40.8,165.2 41.3,165.3 41.8,164.8 42.3,164.5 42.8,163.4 43.3,164.5 43.8,163.3 44.3,164.2 44.8,163.5 45.3,163.0 45.8,163.4 46.3,163.5 46.8,161.8 47.3,160.6 47.8,160.7 48.3,160.9 48.8,159.5 49.3,159.7 49.8,158.6 50.3,157.4 50.8,155.6 51.3,155.9 51.8,154.1 52.3,152.6 52.8,152.6 53.3,153.0 53.8,153.2 54.3,152.3 54.8,152.0 55.3,150.4 55.8,150.8 56.3,152.0 56.8,151.8 57.3,152.3 57.8,151.7 58.3,150.8 58.8,149.0 59.3,150.6 59.8,150.5 60.3,151.5 60.8,151.8 61.3,153.2 61.8,155.1 62.3,156.7 62.8,161.2 63.3,159.6 63.8,164.3 64.3,165.0 64.8,166.1 65.3,165.9 65.8,167.0 66.3,167.1 66.8,167.5 67.3,167.7 67.8,167.9 68.3,167.8 68.8,167.8 69.3,167.9 69.8,167.8 70.3,168.0 70.8,168.0 71.3,168.0 71.8,168.0 72.3,168.0 72.8,167.9 73.3,167.9 73.8,168.1 74.3,168.1 74.8,168.0 75.3,168.1 75.8,168.0 76.3,168.0 76.8,168.1" fill="none" stroke="#1c1c1c" stroke-width="1.0" stroke-linejoin="round"/>
<polyline points="90.2,168.1 90.7,168.0 91.2,168.1 91.7,168.0 92.2,167.8 92.7,167.7 93.2,167.8 93.7,167.7 94.2,167.9 94.7,167.7 95.2,167.5 95.7,166.7 96.2,166.7 96.7,166.4 97.2,166.9 97.7,167.4 98.2,167.1 98.7,167.2 99.2,167.3 99.7,167.3 100.2,166.7 100.7,166.6 101.2,165.5 101.7,164.9 102.2,164.6 102.7,163.9 103.2,163.0 103.7,162.6 104.2,161.7 104.7,156.3 105.2,153.0 105.7,153.4 106.2,148.1 106.7,145.5 107.2,145.6 107.7,139.6 108.2,137.8 108.7,135.3 109.2,133.6 109.7,134.7 110.2,134.8 110.7,136.7 111.2,137.3 111.7,142.6 112.2,144.4 112.7,145.1 113.2,150.6 113.7,150.6 114.2,151.7 114.7,156.7 115.2,157.0 115.7,158.6 116.2,160.2 116.7,160.3 117.2,160.4 117.7,162.4 118.2,164.3 118.7,163.6 119.2,163.5 119.7,164.0 120.2,165.1 120.7,166.6 121.2,164.9 121.7,165.8 122.2,166.9 122.7,167.1 123.2,167.3 123.7,167.0 124.2,167.5 124.7,167.0 125.2,167.6 125.7,167.3 126.2,167.5 126.7,167.8 127.2,167.8 127.7,167.5 128.2,167.5 128.7,167.9 129.2,167.8 129.7,167.7 130.2,167.8 130.7,167.8 131.2,168.0 131.7,167.9 132.2,167.9 132.7,167.8 133.2,167.9 133.7,167.9 134.2,167.9 134.7,168.0 135.2,168.0 135.7,168.1 136.2,168.1" fill="none" stroke="#cf6078" stroke-width="1.0" stroke-linejoin="round"/>
<polyline points="90.2,168.1 90.7,168.0 91.2,168.1 91.7,168.0 92.2,167.9 92.7,167.8 93.2,167.8 93.7,167.7 94.2,167.8 94.7,167.7 95.2,167.5 95.7,166.8 96.2,166.7 96.7,166.5 97.2,166.9 97.7,167.3 98.2,167.2 98.7,167.2 99.2,167.3 99.7,167.2 100.2,166.7 100.7,166.6 101.2,165.7 101.7,165.0 102.2,164.6 102.7,163.9 103.2,162.8 103.7,162.0 104.2,161.2 104.7,156.9 105.2,153.4 105.7,153.1 106.2,148.6 106.7,145.5 107.2,145.1 107.7,140.1 108.2,137.9 108.7,135.9 109.2,133.8 109.7,134.2 110.2,135.0 110.7,137.0 111.2,137.8 111.7,142.4 112.2,144.4 112.7,145.4 113.2,150.2 113.7,151.0 114.2,152.0 114.7,156.1 115.2,157.1 115.7,158.4 116.2,159.8 116.7,160.4 117.2,161.0 117.7,162.5 118.2,163.9 118.7,163.6 119.2,163.8 119.7,164.3 120.2,165.3 120.7,166.3 121.2,165.2 121.7,165.9 122.2,166.7 122.7,166.9 123.2,167.2 123.7,167.0 124.2,167.4 124.7,167.1 125.2,167.5 125.7,167.3 126.2,167.4 126.7,167.7 127.2,167.8 127.7,167.5 128.2,167.6 128.7,167.9 129.2,167.8 129.7,167.8 130.2,167.8 130.7,167.8 131.2,167.9 131.7,167.9 132.2,167.9 132.7,167.9 133.2,167.9 133.7,167.9 134.2,168.0 134.7,168.0 135.2,168.0 135.7,168.1 136.2,168.1" fill="none" stroke="#1c1c1c" stroke-width="1.0" stroke-linejoin="round"/>
<polyline points="31.6,214.7 32.1,214.6 32.6,214.2 33.1,214.1 33.6,213.9 34.1,213.4 34.6,213.5 35.1,212.8 35.6,212.2 36.1,211.6 36.6,207.1 37.1,203.3 37.6,199.2 38.1,197.4 38.6,189.4 39.1,182.5 39.6,181.0 40.1,175.7 40.6,176.0 41.1,178.8 41.6,180.8 42.1,187.7 42.6,193.8 43.1,197.4 43.6,199.1 44.1,204.1 44.6,208.1 45.1,207.9 45.6,209.9 46.1,211.2 46.6,211.7 47.1,212.3 47.6,212.9 48.1,212.8 48.6,213.6 49.1,213.9 49.6,214.4 50.1,214.3 50.6,214.4 51.1,214.3 51.6,214.4 52.1,214.5 52.6,214.5 53.1,214.6 53.6,214.6 54.1,214.7 54.6,214.7 55.1,214.7 55.6,214.8 56.1,214.7 56.6,214.7 57.1,214.7 57.6,214.7 58.1,214.7 58.6,214.7 59.1,214.7 59.6,214.7 60.1,214.8 60.6,214.7 61.1,214.8 61.6,214.7 62.1,214.7 62.6,214.8 63.1,214.7 63.6,214.7 64.1,214.7 64.6,214.8 65.1,214.8 65.6,214.8 66.1,214.7 66.6,214.8 67.1,214.7 67.6,214.7 68.1,214.7 68.6,214.8 69.1,214.8 69.6,214.7 70.1,214.7 70.6,214.8 71.1,214.7 71.6,214.7 72.1,214.7 72.6,214.8 73.1,214.7 73.6,214.8 74.1,214.8 74.6,214.7 75.1,214.7 75.6,214.8 76.1,214.7 76.6,214.8 77.1,214.8 77.6,214.8 78.1,214.8" fill="none" stroke="#cf6078" stroke-width="0.8" stroke-linejoin="round"/>
<polyline points="31.6,214.7 32.1,214.4 32.6,214.0 33.1,214.0 33.6,214.1 34.1,213.4 34.6,213.4 35.1,212.9 35.6,213.2 36.1,212.7 36.6,213.2 37.1,212.5 37.6,212.5 38.1,212.9 38.6,212.6 39.1,212.4 39.6,213.0 40.1,212.5 40.6,212.0 41.1,212.6 41.6,211.5 42.1,211.3 42.6,210.7 43.1,211.5 43.6,211.9 44.1,210.2 44.6,209.8 45.1,210.1 45.6,210.4 46.1,209.5 46.6,208.1 47.1,208.6 47.6,205.7 48.1,205.6 48.6,205.6 49.1,203.7 49.6,204.3 50.1,201.6 50.6,200.1 51.1,199.8 51.6,198.5 52.1,198.3 52.6,198.3 53.1,198.1 53.6,200.9 54.1,199.1 54.6,197.3 55.1,197.7 55.6,196.8 56.1,198.0 56.6,195.5 57.1,196.3 57.6,197.5 58.1,196.7 58.6,198.6 59.1,199.3 59.6,198.6 60.1,199.9 60.6,199.9 61.1,198.2 61.6,200.1 62.1,204.0 62.6,202.9 63.1,206.5 63.6,208.6 64.1,208.9 64.6,210.3 65.1,212.4 65.6,213.4 66.1,213.6 66.6,214.1 67.1,214.1 67.6,214.6 68.1,214.5 68.6,214.4 69.1,214.5 69.6,214.4 70.1,214.6 70.6,214.5 71.1,214.6 71.6,214.6 72.1,214.6 72.6,214.7 73.1,214.6 73.6,214.6 74.1,214.7 74.6,214.7 75.1,214.7 75.6,214.7 76.1,214.8 76.6,214.7 77.1,214.8 77.6,214.8 78.1,214.7" fill="none" stroke="#1c1c1c" stroke-width="0.9" stroke-linejoin="round"/>
<polyline points="90.7,214.8 91.2,214.8 91.7,214.7 92.2,214.7 92.7,214.7 93.2,214.6 93.7,214.6 94.2,214.5 94.7,214.6 95.2,214.5 95.7,214.5 96.2,214.5 96.7,214.4 97.2,214.3 97.7,214.3 98.2,214.2 98.7,213.9 99.2,213.7 99.7,213.6 100.2,213.6 100.7,213.2 101.2,213.6 101.7,213.1 102.2,213.0 102.7,212.3 103.2,211.5 103.7,210.4 104.2,208.9 104.7,209.6 105.2,206.6 105.7,202.6 106.2,199.1 106.7,196.0 107.2,195.7 107.7,190.8 108.2,184.0 108.7,179.2 109.2,178.0 109.7,176.0 110.2,179.0 110.7,182.7 111.2,185.8 111.7,191.1 112.2,196.5 112.7,198.7 113.2,200.6 113.7,204.2 114.2,206.5 114.7,207.4 115.2,208.7 115.7,208.6 116.2,211.2 116.7,211.8 117.2,212.2 117.7,212.9 118.2,212.7 118.7,213.2 119.2,213.1 119.7,213.4 120.2,213.8 120.7,213.9 121.2,214.2 121.7,214.1 122.2,214.2 122.7,214.2 123.2,214.3 123.7,214.2 124.2,214.3 124.7,214.4 125.2,214.4 125.7,214.6 126.2,214.5 126.7,214.6 127.2,214.6 127.7,214.6 128.2,214.7 128.7,214.7 129.2,214.7 129.7,214.7 130.2,214.7 130.7,214.7 131.2,214.7 131.7,214.7 132.2,214.7 132.7,214.8 133.2,214.7 133.7,214.7 134.2,214.7 134.7,214.8 135.2,214.8 135.7,214.7 136.2,214.7 136.7,214.7" fill="none" stroke="#cf6078" stroke-width="0.8" stroke-linejoin="round"/>
<polyline points="90.7,214.8 91.2,214.7 91.7,214.8 92.2,214.6 92.7,214.6 93.2,214.5 93.7,214.2 94.2,214.4 94.7,214.2 95.2,214.2 95.7,214.2 96.2,214.1 96.7,214.2 97.2,213.8 97.7,214.1 98.2,213.9 98.7,214.0 99.2,213.7 99.7,213.5 100.2,213.1 100.7,213.5 101.2,213.5 101.7,213.1 102.2,211.8 102.7,212.6 103.2,211.3 103.7,211.4 104.2,210.7 104.7,211.2 105.2,209.0 105.7,207.2 106.2,204.3 106.7,201.3 107.2,200.5 107.7,201.0 108.2,198.6 108.7,192.4 109.2,189.7 109.7,188.3 110.2,185.5 110.7,183.9 111.2,181.7 111.7,182.3 112.2,186.7 112.7,188.5 113.2,188.2 113.7,192.7 114.2,194.4 114.7,198.5 115.2,197.7 115.7,198.9 116.2,200.3 116.7,202.7 117.2,205.0 117.7,206.1 118.2,206.9 118.7,207.1 119.2,208.4 119.7,210.7 120.2,209.5 120.7,210.5 121.2,210.3 121.7,211.7 122.2,212.1 122.7,212.9 123.2,212.9 123.7,213.3 124.2,213.4 124.7,213.5 125.2,213.2 125.7,213.2 126.2,213.9 126.7,213.9 127.2,214.1 127.7,214.0 128.2,214.0 128.7,214.4 129.2,214.3 129.7,214.5 130.2,214.5 130.7,214.3 131.2,214.5 131.7,214.6 132.2,214.5 132.7,214.6 133.2,214.6 133.7,214.6 134.2,214.7 134.7,214.7 135.2,214.7 135.7,214.8 136.2,214.8 136.7,214.8" fill="none" stroke="#1c1c1c" stroke-width="0.9" stroke-linejoin="round"/>
<text x="144.3" y="50.6" font-size="8.6" textLength="29.8" lengthAdjust="spacingAndGlyphs">Vehicle</text>
<text x="144.3" y="61.9" font-size="8.6" textLength="36.4" lengthAdjust="spacingAndGlyphs">no TNF<tspan font-family="DejaVu Sans, sans-serif" font-size="90%">α</tspan></text>
<text x="144.8" y="90.5" font-size="8.6" textLength="29.8" lengthAdjust="spacingAndGlyphs">Vehicle</text>
<text x="144.8" y="100.5" font-size="8.6" textLength="7.8" lengthAdjust="spacingAndGlyphs">or</text>
<text x="144.6" y="110.6" font-size="8.6" textLength="34.3" lengthAdjust="spacingAndGlyphs" fill="#c8304a" stroke="#c8304a" style="stroke-width:0.15px">IC87114</text>
<text x="149.6" y="120.5" font-size="8.6" textLength="26.6" lengthAdjust="spacingAndGlyphs" fill="#c8304a" stroke="#c8304a" style="stroke-width:0.15px">(2 <tspan font-style="italic">µ</tspan>M)</text>
<text x="144.8" y="139.5" font-size="8.6" textLength="29.8" lengthAdjust="spacingAndGlyphs">Vehicle</text>
<text x="144.8" y="149.5" font-size="8.6" textLength="7.8" lengthAdjust="spacingAndGlyphs">or</text>
<text x="144.8" y="159.6" font-size="8.6" textLength="41.4" lengthAdjust="spacingAndGlyphs" fill="#c8304a" stroke="#c8304a" style="stroke-width:0.15px">LY294002</text>
<text x="149.8" y="169.5" font-size="8.6" textLength="30.8" lengthAdjust="spacingAndGlyphs" fill="#c8304a" stroke="#c8304a" style="stroke-width:0.15px">(10 <tspan font-style="italic">µ</tspan>M)</text>
<text x="144.8" y="185.7" font-size="8.6" textLength="29.8" lengthAdjust="spacingAndGlyphs">Vehicle</text>
<text x="144.8" y="195.7" font-size="8.6" textLength="7.8" lengthAdjust="spacingAndGlyphs">or</text>
<text x="145.1" y="205.79999999999998" font-size="8.6" textLength="51.7" lengthAdjust="spacingAndGlyphs" fill="#c8304a" stroke="#c8304a" style="stroke-width:0.15px">Bay 11-7082</text>
<text x="155.6" y="215.7" font-size="8.6" textLength="30.8" lengthAdjust="spacingAndGlyphs" fill="#c8304a" stroke="#c8304a" style="stroke-width:0.15px">(10 <tspan font-style="italic">µ</tspan>M)</text>
<polyline points="189.8,81.3 202.4,81.3 202.4,220.3 190.0,220.3" fill="none" stroke="#222" stroke-width="1.25"/>
<text x="206.5" y="158.0" font-size="8.6" textLength="31.2" lengthAdjust="spacingAndGlyphs">+ TNF<tspan font-family="DejaVu Sans, sans-serif" font-size="90%">α</tspan></text>
<text x="249.9" y="9.0" font-size="11.8" textLength="7.8" lengthAdjust="spacingAndGlyphs" style="stroke-width:0.45px" font-weight="bold">B</text>
<rect x="276.50" y="17.20" width="45.80" height="42.50" fill="none" stroke="#2a2a2a" stroke-width="0.75"/>
<line x1="276.4" y1="16.9" x2="276.4" y2="60.0" stroke="#111" stroke-width="1.4"/>
<line x1="275.0" y1="17.2" x2="276.5" y2="17.2" stroke="#111" stroke-width="0.5"/>
<line x1="275.0" y1="21.45" x2="276.5" y2="21.45" stroke="#111" stroke-width="0.5"/>
<line x1="275.0" y1="25.7" x2="276.5" y2="25.7" stroke="#111" stroke-width="0.5"/>
<line x1="275.0" y1="29.95" x2="276.5" y2="29.95" stroke="#111" stroke-width="0.5"/>
<line x1="275.0" y1="34.2" x2="276.5" y2="34.2" stroke="#111" stroke-width="0.5"/>
<line x1="275.0" y1="38.45" x2="276.5" y2="38.45" stroke="#111" stroke-width="0.5"/>
<line x1="275.0" y1="42.7" x2="276.5" y2="42.7" stroke="#111" stroke-width="0.5"/>
<line x1="275.0" y1="46.95" x2="276.5" y2="46.95" stroke="#111" stroke-width="0.5"/>
<line x1="275.0" y1="51.2" x2="276.5" y2="51.2" stroke="#111" stroke-width="0.5"/>
<line x1="275.0" y1="55.45" x2="276.5" y2="55.45" stroke="#111" stroke-width="0.5"/>
<line x1="275.0" y1="59.7" x2="276.5" y2="59.7" stroke="#111" stroke-width="0.5"/>
<line x1="276.5" y1="59.6" x2="322.3" y2="59.6" stroke="#111" stroke-width="1.1"/>
<rect x="336.40" y="17.20" width="46.20" height="42.50" fill="none" stroke="#2a2a2a" stroke-width="0.75"/>
<line x1="336.29999999999995" y1="16.9" x2="336.29999999999995" y2="60.0" stroke="#111" stroke-width="1.4"/>
<line x1="334.9" y1="17.2" x2="336.4" y2="17.2" stroke="#111" stroke-width="0.5"/>
<line x1="334.9" y1="21.45" x2="336.4" y2="21.45" stroke="#111" stroke-width="0.5"/>
<line x1="334.9" y1="25.7" x2="336.4" y2="25.7" stroke="#111" stroke-width="0.5"/>
<line x1="334.9" y1="29.95" x2="336.4" y2="29.95" stroke="#111" stroke-width="0.5"/>
<line x1="334.9" y1="34.2" x2="336.4" y2="34.2" stroke="#111" stroke-width="0.5"/>
<line x1="334.9" y1="38.45" x2="336.4" y2="38.45" stroke="#111" stroke-width="0.5"/>
<line x1="334.9" y1="42.7" x2="336.4" y2="42.7" stroke="#111" stroke-width="0.5"/>
<line x1="334.9" y1="46.95" x2="336.4" y2="46.95" stroke="#111" stroke-width="0.5"/>
<line x1="334.9" y1="51.2" x2="336.4" y2="51.2" stroke="#111" stroke-width="0.5"/>
<line x1="334.9" y1="55.45" x2="336.4" y2="55.45" stroke="#111" stroke-width="0.5"/>
<line x1="334.9" y1="59.7" x2="336.4" y2="59.7" stroke="#111" stroke-width="0.5"/>
<line x1="336.4" y1="59.6" x2="382.6" y2="59.6" stroke="#111" stroke-width="1.1"/>
<text x="268.2" y="20.1" font-size="7.1" text-anchor="middle" style="stroke-width:0.4px">100</text>
<text x="268.2" y="28.1" font-size="7.1" text-anchor="middle" style="stroke-width:0.4px">80</text>
<text x="268.2" y="36.1" font-size="7.1" text-anchor="middle" style="stroke-width:0.4px">60</text>
<text x="268.2" y="44.1" font-size="7.1" text-anchor="middle" style="stroke-width:0.4px">40</text>
<text x="268.2" y="52.1" font-size="7.1" text-anchor="middle" style="stroke-width:0.4px">20</text>
<text x="268.2" y="60.1" font-size="7.1" text-anchor="middle" style="stroke-width:0.4px">0</text>
<rect x="276.50" y="65.60" width="45.80" height="42.40" fill="none" stroke="#2a2a2a" stroke-width="0.75"/>
<line x1="276.4" y1="65.3" x2="276.4" y2="108.3" stroke="#111" stroke-width="1.4"/>
<line x1="275.0" y1="65.6" x2="276.5" y2="65.6" stroke="#111" stroke-width="0.5"/>
<line x1="275.0" y1="69.84" x2="276.5" y2="69.84" stroke="#111" stroke-width="0.5"/>
<line x1="275.0" y1="74.08" x2="276.5" y2="74.08" stroke="#111" stroke-width="0.5"/>
<line x1="275.0" y1="78.32" x2="276.5" y2="78.32" stroke="#111" stroke-width="0.5"/>
<line x1="275.0" y1="82.56" x2="276.5" y2="82.56" stroke="#111" stroke-width="0.5"/>
<line x1="275.0" y1="86.8" x2="276.5" y2="86.8" stroke="#111" stroke-width="0.5"/>
<line x1="275.0" y1="91.04" x2="276.5" y2="91.04" stroke="#111" stroke-width="0.5"/>
<line x1="275.0" y1="95.28" x2="276.5" y2="95.28" stroke="#111" stroke-width="0.5"/>
<line x1="275.0" y1="99.52" x2="276.5" y2="99.52" stroke="#111" stroke-width="0.5"/>
<line x1="275.0" y1="103.76" x2="276.5" y2="103.76" stroke="#111" stroke-width="0.5"/>
<line x1="275.0" y1="108.0" x2="276.5" y2="108.0" stroke="#111" stroke-width="0.5"/>
<line x1="276.5" y1="107.9" x2="322.3" y2="107.9" stroke="#111" stroke-width="1.1"/>
<rect x="336.40" y="65.60" width="46.20" height="42.40" fill="none" stroke="#2a2a2a" stroke-width="0.75"/>
<line x1="336.29999999999995" y1="65.3" x2="336.29999999999995" y2="108.3" stroke="#111" stroke-width="1.4"/>
<line x1="334.9" y1="65.6" x2="336.4" y2="65.6" stroke="#111" stroke-width="0.5"/>
<line x1="334.9" y1="69.84" x2="336.4" y2="69.84" stroke="#111" stroke-width="0.5"/>
<line x1="334.9" y1="74.08" x2="336.4" y2="74.08" stroke="#111" stroke-width="0.5"/>
<line x1="334.9" y1="78.32" x2="336.4" y2="78.32" stroke="#111" stroke-width="0.5"/>
<line x1="334.9" y1="82.56" x2="336.4" y2="82.56" stroke="#111" stroke-width="0.5"/>
<line x1="334.9" y1="86.8" x2="336.4" y2="86.8" stroke="#111" stroke-width="0.5"/>
<line x1="334.9" y1="91.04" x2="336.4" y2="91.04" stroke="#111" stroke-width="0.5"/>
<line x1="334.9" y1="95.28" x2="336.4" y2="95.28" stroke="#111" stroke-width="0.5"/>
<line x1="334.9" y1="99.52" x2="336.4" y2="99.52" stroke="#111" stroke-width="0.5"/>
<line x1="334.9" y1="103.76" x2="336.4" y2="103.76" stroke="#111" stroke-width="0.5"/>
<line x1="334.9" y1="108.0" x2="336.4" y2="108.0" stroke="#111" stroke-width="0.5"/>
<line x1="336.4" y1="107.9" x2="382.6" y2="107.9" stroke="#111" stroke-width="1.1"/>
<text x="268.2" y="68.5" font-size="7.1" text-anchor="middle" style="stroke-width:0.4px">100</text>
<text x="268.2" y="76.5" font-size="7.1" text-anchor="middle" style="stroke-width:0.4px">80</text>
<text x="268.2" y="84.5" font-size="7.1" text-anchor="middle" style="stroke-width:0.4px">60</text>
<text x="268.2" y="92.5" font-size="7.1" text-anchor="middle" style="stroke-width:0.4px">40</text>
<text x="268.2" y="100.5" font-size="7.1" text-anchor="middle" style="stroke-width:0.4px">20</text>
<text x="268.2" y="108.5" font-size="7.1" text-anchor="middle" style="stroke-width:0.4px">0</text>
<text x="256.3" y="93.4" font-size="10.6" textLength="58.4" lengthAdjust="spacingAndGlyphs" style="stroke-width:0.22px" transform="rotate(-90 256.3 93.4)">Cell number</text>
<text x="262.5" y="129.2" font-size="10.9" textLength="130.6" lengthAdjust="spacingAndGlyphs" style="stroke-width:0.22px">Log Fluorescence Intensity</text>
<text x="270.6" y="118.0" font-size="6.6">10<tspan dy="-2.1" font-size="5.6">0</tspan></text>
<text x="283.3" y="118.0" font-size="6.6">10<tspan dy="-2.1" font-size="5.6">1</tspan></text>
<text x="294.0" y="118.0" font-size="6.6">10<tspan dy="-2.1" font-size="5.6">2</tspan></text>
<text x="307.0" y="118.0" font-size="6.6">10<tspan dy="-2.1" font-size="5.6">3</tspan></text>
<text x="318.9" y="118.0" font-size="6.6">10<tspan dy="-2.1" font-size="5.6">4</tspan></text>
<text x="331.3" y="118.0" font-size="6.6">10<tspan dy="-2.1" font-size="5.6">0</tspan></text>
<text x="343.8" y="118.0" font-size="6.6">10<tspan dy="-2.1" font-size="5.6">1</tspan></text>
<text x="354.5" y="118.0" font-size="6.6">10<tspan dy="-2.1" font-size="5.6">2</tspan></text>
<text x="366.9" y="118.0" font-size="6.6">10<tspan dy="-2.1" font-size="5.6">3</tspan></text>
<text x="378.8" y="118.0" font-size="6.6">10<tspan dy="-2.1" font-size="5.6">4</tspan></text>
<text x="285.2" y="24.9" font-size="9.6" textLength="29.8" lengthAdjust="spacingAndGlyphs">Vehicle</text>
<text x="341.9" y="24.0" font-size="9.4" textLength="33.9" lengthAdjust="spacingAndGlyphs">IC87114</text>
<text x="346.8" y="34.1" font-size="9.4" textLength="26.4" lengthAdjust="spacingAndGlyphs">(2 <tspan font-style="italic">µ</tspan>M)</text>
<text x="282.7" y="72.8" font-size="9.4" textLength="34.3" lengthAdjust="spacingAndGlyphs">IC87114</text>
<text x="285.0" y="83.0" font-size="9.4" textLength="31.2" lengthAdjust="spacingAndGlyphs">(10 <tspan font-style="italic">µ</tspan>M)</text>
<text x="342.7" y="73.1" font-size="9.4" textLength="34.0" lengthAdjust="spacingAndGlyphs">IC87114</text>
<text x="345.0" y="82.9" font-size="9.4" textLength="31.2" lengthAdjust="spacingAndGlyphs">(50 <tspan font-style="italic">µ</tspan>M)</text>
<line x1="276.5" y1="39.6" x2="291.8" y2="39.6" stroke="#111" stroke-width="0.8"/>
<line x1="291.8" y1="36.2" x2="291.8" y2="43.0" stroke="#111" stroke-width="0.8"/>
<line x1="336.4" y1="39.5" x2="351.4" y2="39.5" stroke="#111" stroke-width="0.8"/>
<line x1="351.4" y1="36.1" x2="351.4" y2="42.9" stroke="#111" stroke-width="0.8"/>
<line x1="276.5" y1="88.6" x2="291.9" y2="88.6" stroke="#111" stroke-width="0.8"/>
<line x1="291.9" y1="85.19999999999999" x2="291.9" y2="92.0" stroke="#111" stroke-width="0.8"/>
<line x1="336.4" y1="88.3" x2="352.3" y2="88.3" stroke="#111" stroke-width="0.8"/>
<line x1="352.3" y1="84.89999999999999" x2="352.3" y2="91.7" stroke="#111" stroke-width="0.8"/>
<polyline points="276.9,58.9 277.4,55.4 277.9,51.7 278.4,49.9 278.9,46.1 279.4,44.1 279.9,44.6 280.4,42.8 280.9,42.1 281.4,43.9 281.9,44.3 282.4,44.5 282.9,45.5 283.4,47.2 283.9,48.4 284.4,48.0 284.9,50.5 285.4,50.5 285.9,50.8 286.4,51.6 286.9,52.0 287.4,52.9 287.9,54.0 288.4,53.9 288.9,54.7 289.4,55.8 289.9,56.8 290.4,57.4 290.9,57.5 291.4,57.3 291.9,58.0 292.4,58.8 292.9,58.7 293.4,59.0 293.9,58.9 294.4,59.1 294.9,59.2 295.4,59.3 295.9,59.3 296.4,59.3 296.9,59.3 297.4,59.3 297.9,59.3 298.4,59.3 298.9,59.3 299.4,59.3 299.9,59.3 300.4,59.3 300.9,59.3 301.4,59.3 301.9,59.4 302.4,59.3 302.9,59.3 303.4,59.4 303.9,59.4 304.4,59.3 304.9,59.4 305.4,59.4 305.9,59.3 306.4,59.4 306.9,59.3 307.4,59.3 307.9,59.3 308.4,59.3 308.9,59.4 309.4,59.4 309.9,59.4 310.4,59.4 310.9,59.4 311.4,59.4 311.9,59.4 312.4,59.4 312.9,59.4 313.4,59.4 313.9,59.4 314.4,59.4 314.9,59.4 315.4,59.4 315.9,59.4 316.4,59.4 316.9,59.4 317.4,59.4 317.9,59.4 318.4,59.4 318.9,59.4 319.4,59.4 319.9,59.4 320.4,59.4 320.9,59.4 321.4,59.4 321.9,59.4" fill="none" stroke="#1c1c1c" stroke-width="1.1" stroke-linejoin="round"/>
<polyline points="336.8,59.4 337.3,59.4 337.8,59.4 338.3,59.3 338.8,59.4 339.3,59.3 339.8,59.1 340.3,59.3 340.8,58.8 341.3,58.7 341.8,58.8 342.3,58.6 342.8,58.4 343.3,58.4 343.8,57.0 344.3,57.9 344.8,56.5 345.3,56.6 345.8,58.3 346.3,57.3 346.8,56.1 347.3,54.3 347.8,56.8 348.3,54.9 348.8,55.7 349.3,53.4 349.8,52.3 350.3,52.9 350.8,55.7 351.3,52.7 351.8,54.0 352.3,51.6 352.8,53.1 353.3,50.5 353.8,50.0 354.3,50.8 354.8,50.7 355.3,50.6 355.8,51.7 356.3,53.7 356.8,49.6 357.3,52.1 357.8,54.2 358.3,51.8 358.8,51.7 359.3,52.7 359.8,48.7 360.3,52.6 360.8,48.0 361.3,49.4 361.8,51.1 362.3,50.0 362.8,48.9 363.3,50.0 363.8,46.5 364.3,47.2 364.8,46.0 365.3,47.0 365.8,48.0 366.3,48.3 366.8,49.4 367.3,51.9 367.8,54.3 368.3,55.3 368.8,55.0 369.3,56.3 369.8,57.4 370.3,57.7 370.8,59.1 371.3,59.1 371.8,59.4 372.3,59.2 372.8,59.2 373.3,59.2 373.8,59.2 374.3,59.4 374.8,59.3 375.3,59.3 375.8,59.4 376.3,59.2 376.8,59.4 377.3,59.4 377.8,59.4 378.3,59.4 378.8,59.3 379.3,59.4 379.8,59.3 380.3,59.4 380.8,59.4 381.3,59.4 381.8,59.4 382.3,59.4" fill="none" stroke="#1c1c1c" stroke-width="1.0" stroke-linejoin="round"/>
<polyline points="276.9,107.7 277.4,107.7 277.9,107.7 278.4,107.7 278.9,107.5 279.4,107.6 279.9,107.5 280.4,107.6 280.9,107.2 281.4,107.3 281.9,107.3 282.4,107.1 282.9,106.8 283.4,107.2 283.9,106.8 284.4,106.9 284.9,106.7 285.4,106.4 285.9,106.3 286.4,106.1 286.9,105.1 287.4,105.4 287.9,104.2 288.4,103.8 288.9,103.7 289.4,103.5 289.9,104.2 290.4,103.6 290.9,102.7 291.4,103.3 291.9,104.3 292.4,102.9 292.9,102.8 293.4,103.9 293.9,104.0 294.4,103.4 294.9,101.4 295.4,100.7 295.9,100.9 296.4,101.5 296.9,102.8 297.4,102.8 297.9,100.5 298.4,100.6 298.9,100.6 299.4,101.3 299.9,101.2 300.4,100.9 300.9,101.0 301.4,99.3 301.9,100.1 302.4,99.0 302.9,99.1 303.4,98.4 303.9,97.4 304.4,97.1 304.9,99.2 305.4,97.1 305.9,98.3 306.4,98.9 306.9,100.7 307.4,100.3 307.9,102.2 308.4,104.5 308.9,103.7 309.4,104.3 309.9,105.6 310.4,105.9 310.9,106.5 311.4,106.7 311.9,107.5 312.4,107.4 312.9,107.6 313.4,107.5 313.9,107.5 314.4,107.7 314.9,107.7 315.4,107.7 315.9,107.7 316.4,107.7 316.9,107.6 317.4,107.7 317.9,107.7 318.4,107.7 318.9,107.7 319.4,107.7 319.9,107.7 320.4,107.7 320.9,107.7 321.4,107.7 321.9,107.7 322.4,107.7" fill="none" stroke="#1c1c1c" stroke-width="1.0" stroke-linejoin="round"/>
<polyline points="336.8,107.7 337.3,107.7 337.8,107.7 338.3,107.6 338.8,107.5 339.3,107.6 339.8,107.5 340.3,107.5 340.8,107.4 341.3,107.7 341.8,107.6 342.3,107.2 342.8,107.2 343.3,107.4 343.8,107.1 344.3,107.4 344.8,107.3 345.3,107.1 345.8,107.1 346.3,107.0 346.8,106.2 347.3,105.7 347.8,106.2 348.3,105.5 348.8,104.4 349.3,106.1 349.8,105.2 350.3,105.6 350.8,103.6 351.3,104.3 351.8,104.0 352.3,104.3 352.8,101.8 353.3,101.5 353.8,102.7 354.3,101.0 354.8,103.2 355.3,102.3 355.8,99.3 356.3,102.1 356.8,102.3 357.3,102.7 357.8,99.7 358.3,98.8 358.8,101.8 359.3,99.7 359.8,100.0 360.3,100.1 360.8,100.2 361.3,99.2 361.8,99.8 362.3,96.2 362.8,99.1 363.3,97.5 363.8,96.7 364.3,96.3 364.8,96.9 365.3,97.1 365.8,96.0 366.3,99.6 366.8,100.4 367.3,101.6 367.8,100.6 368.3,102.6 368.8,104.0 369.3,105.9 369.8,106.0 370.3,105.5 370.8,107.0 371.3,107.2 371.8,107.4 372.3,107.6 372.8,107.7 373.3,107.4 373.8,107.6 374.3,107.7 374.8,107.7 375.3,107.6 375.8,107.6 376.3,107.7 376.8,107.7 377.3,107.6 377.8,107.7 378.3,107.7 378.8,107.7 379.3,107.6 379.8,107.7 380.3,107.7 380.8,107.7 381.3,107.7 381.8,107.7 382.3,107.7" fill="none" stroke="#1c1c1c" stroke-width="1.0" stroke-linejoin="round"/>
<text x="249.5" y="158.4" font-size="11.8" textLength="8.0" lengthAdjust="spacingAndGlyphs" style="stroke-width:0.45px" font-weight="bold">C</text>
<line x1="283.8" y1="177.29999999999998" x2="283.8" y2="252.20000000000002" stroke="#111" stroke-width="1.0"/>
<line x1="283.3" y1="251.8" x2="380.4" y2="251.8" stroke="#111" stroke-width="1.0"/>
<line x1="281.5" y1="251.8" x2="283.8" y2="251.8" stroke="#111" stroke-width="0.8"/>
<text x="280.2" y="254.6" font-size="8.8" textLength="13.2" lengthAdjust="spacingAndGlyphs" text-anchor="end" style="stroke-width:0.2px">0.0</text>
<line x1="281.5" y1="239.5" x2="283.8" y2="239.5" stroke="#111" stroke-width="0.8"/>
<text x="280.2" y="242.3" font-size="8.8" textLength="13.2" lengthAdjust="spacingAndGlyphs" text-anchor="end" style="stroke-width:0.2px">0.1</text>
<line x1="281.5" y1="227.1" x2="283.8" y2="227.1" stroke="#111" stroke-width="0.8"/>
<text x="280.2" y="229.9" font-size="8.8" textLength="13.2" lengthAdjust="spacingAndGlyphs" text-anchor="end" style="stroke-width:0.2px">0.2</text>
<line x1="281.5" y1="214.8" x2="283.8" y2="214.8" stroke="#111" stroke-width="0.8"/>
<text x="280.2" y="217.6" font-size="8.8" textLength="13.2" lengthAdjust="spacingAndGlyphs" text-anchor="end" style="stroke-width:0.2px">0.3</text>
<line x1="281.5" y1="202.4" x2="283.8" y2="202.4" stroke="#111" stroke-width="0.8"/>
<text x="280.2" y="205.2" font-size="8.8" textLength="13.2" lengthAdjust="spacingAndGlyphs" text-anchor="end" style="stroke-width:0.2px">0.4</text>
<line x1="281.5" y1="190.0" x2="283.8" y2="190.0" stroke="#111" stroke-width="0.8"/>
<text x="280.2" y="192.8" font-size="8.8" textLength="13.2" lengthAdjust="spacingAndGlyphs" text-anchor="end" style="stroke-width:0.2px">0.5</text>
<line x1="281.5" y1="177.7" x2="283.8" y2="177.7" stroke="#111" stroke-width="0.8"/>
<text x="280.2" y="180.5" font-size="8.8" textLength="13.2" lengthAdjust="spacingAndGlyphs" text-anchor="end" style="stroke-width:0.2px">0.6</text>
<rect x="288.40" y="243.70" width="10.80" height="8.10" fill="#050505" stroke="none" stroke-width="0"/>
<rect x="304.00" y="208.20" width="10.40" height="43.60" fill="#050505" stroke="none" stroke-width="0"/>
<line x1="309.2" y1="208.2" x2="309.2" y2="204.6" stroke="#555" stroke-width="0.8"/>
<line x1="307.4" y1="204.6" x2="311.0" y2="204.6" stroke="#555" stroke-width="0.8"/>
<rect x="322.20" y="199.40" width="10.00" height="52.40" fill="#050505" stroke="none" stroke-width="0"/>
<line x1="327.2" y1="199.4" x2="327.2" y2="198.7" stroke="#555" stroke-width="0.8"/>
<line x1="325.4" y1="198.7" x2="329.0" y2="198.7" stroke="#555" stroke-width="0.8"/>
<rect x="340.50" y="198.20" width="10.30" height="53.60" fill="#050505" stroke="none" stroke-width="0"/>
<line x1="345.65" y1="198.2" x2="345.65" y2="196.6" stroke="#555" stroke-width="0.8"/>
<line x1="343.84999999999997" y1="196.6" x2="347.45" y2="196.6" stroke="#555" stroke-width="0.8"/>
<rect x="360.20" y="243.80" width="10.40" height="8.00" fill="#050505" stroke="none" stroke-width="0"/>
<text x="365.4" y="243.8" font-size="8.2" text-anchor="middle" font-weight="bold">*</text>
<text x="260.5" y="269.2" font-size="10.6" textLength="104.4" lengthAdjust="spacingAndGlyphs" style="stroke-width:0.22px" transform="rotate(-90 260.5 269.2)">Absorbance (665 nm)</text>
<text x="297.0" y="262.5" font-size="8.9" text-anchor="end" transform="rotate(-45 297.0 262.5)">Vehicle</text>
<text x="313.5" y="263.2" font-size="8.9" text-anchor="end" transform="rotate(-45 313.5 263.2)">TNF<tspan font-family="DejaVu Sans, sans-serif" font-size="90%">α</tspan> alone</text>
<text x="331.2" y="264.1" font-size="8.9" text-anchor="end" transform="rotate(-45 331.2 264.1)">IC87114</text>
<text x="350.3" y="265.0" font-size="8.9" text-anchor="end" transform="rotate(-45 350.3 265.0)">LY294002</text>
<text x="371.5" y="265.1" font-size="8.9" text-anchor="end" transform="rotate(-45 371.5 265.1)">Bay 11-7082</text>
<polyline points="302.7,293.6 302.7,302.2 372.5,302.2 372.5,293.6" fill="none" stroke="#333" stroke-width="0.8"/>
<text x="282.9" y="313.3" font-size="7.5" textLength="98" lengthAdjust="spacingAndGlyphs">Secondary treatment (TNF<tspan font-family="DejaVu Sans, sans-serif" font-size="90%">α</tspan>)</text>
<text x="392.3" y="160.9" font-size="11.8" textLength="8.0" lengthAdjust="spacingAndGlyphs" style="stroke-width:0.45px" font-weight="bold">D</text>
<line x1="436.7" y1="193.1" x2="436.7" y2="269.09999999999997" stroke="#333" stroke-width="0.8"/>
<line x1="436.3" y1="268.7" x2="518.9" y2="268.7" stroke="#333" stroke-width="0.8"/>
<line x1="433.9" y1="268.7" x2="436.7" y2="268.7" stroke="#333" stroke-width="0.7"/>
<text x="432.0" y="272.6" font-size="8.8" text-anchor="end" style="stroke-width:0.2px">0</text>
<line x1="433.9" y1="256.2" x2="436.7" y2="256.2" stroke="#333" stroke-width="0.7"/>
<text x="432.0" y="260.1" font-size="8.8" text-anchor="end" style="stroke-width:0.2px">20</text>
<line x1="433.9" y1="243.6" x2="436.7" y2="243.6" stroke="#333" stroke-width="0.7"/>
<text x="432.0" y="247.5" font-size="8.8" text-anchor="end" style="stroke-width:0.2px">40</text>
<line x1="433.9" y1="231.1" x2="436.7" y2="231.1" stroke="#333" stroke-width="0.7"/>
<text x="432.0" y="235.0" font-size="8.8" text-anchor="end" style="stroke-width:0.2px">60</text>
<line x1="433.9" y1="218.6" x2="436.7" y2="218.6" stroke="#333" stroke-width="0.7"/>
<text x="432.0" y="222.5" font-size="8.8" text-anchor="end" style="stroke-width:0.2px">80</text>
<line x1="433.9" y1="206.0" x2="436.7" y2="206.0" stroke="#333" stroke-width="0.7"/>
<text x="432.0" y="209.9" font-size="8.8" text-anchor="end" style="stroke-width:0.2px">100</text>
<line x1="433.9" y1="193.5" x2="436.7" y2="193.5" stroke="#333" stroke-width="0.7"/>
<text x="432.0" y="197.4" font-size="8.8" text-anchor="end" style="stroke-width:0.2px">120</text>
<rect x="440.00" y="240.20" width="12.20" height="28.50" fill="#050505" stroke="none" stroke-width="0"/>
<line x1="446.1" y1="240.2" x2="446.1" y2="235.1" stroke="#555" stroke-width="0.8"/>
<line x1="444.3" y1="235.1" x2="447.90000000000003" y2="235.1" stroke="#555" stroke-width="0.8"/>
<rect x="459.10" y="229.00" width="12.90" height="39.70" fill="#050505" stroke="none" stroke-width="0"/>
<line x1="465.55" y1="229.0" x2="465.55" y2="221.7" stroke="#555" stroke-width="0.8"/>
<line x1="463.75" y1="221.7" x2="467.35" y2="221.7" stroke="#555" stroke-width="0.8"/>
<rect x="478.60" y="205.70" width="12.20" height="63.00" fill="#050505" stroke="none" stroke-width="0"/>
<rect x="497.20" y="215.50" width="12.60" height="53.20" fill="#050505" stroke="none" stroke-width="0"/>
<line x1="503.5" y1="215.5" x2="503.5" y2="211.0" stroke="#555" stroke-width="0.8"/>
<line x1="501.7" y1="211.0" x2="505.3" y2="211.0" stroke="#555" stroke-width="0.8"/>
<text x="445.9" y="235.7" font-size="6.8" text-anchor="middle" style="stroke-width:0.4px" font-weight="bold">*</text>
<text x="465.2" y="221.0" font-size="6.8" text-anchor="middle" style="stroke-width:0.4px" font-weight="bold">*</text>
<text x="401.2" y="286.2" font-size="10.4" textLength="112.4" lengthAdjust="spacingAndGlyphs" style="stroke-width:0.22px" transform="rotate(-90 401.2 286.2)">Inhibition of attachment</text>
<text x="412.4" y="266.6" font-size="10.4" textLength="66" lengthAdjust="spacingAndGlyphs" style="stroke-width:0.22px" transform="rotate(-90 412.4 266.6)">(% of control)</text>
<text x="452.7" y="280.4" font-size="8.9" text-anchor="end" transform="rotate(-45 452.7 280.4)">IC87114</text>
<text x="471.9" y="281.2" font-size="8.9" text-anchor="end" transform="rotate(-45 471.9 281.2)">LY294002</text>
<text x="491.7" y="280.0" font-size="8.9" text-anchor="end" transform="rotate(-45 491.7 280.0)">Bay 11-7082</text>
<text x="511.7" y="279.8" font-size="8.9" text-anchor="end" transform="rotate(-45 511.7 279.8)">mAb CL3</text>
</g></g>
</svg>
</body></html>
